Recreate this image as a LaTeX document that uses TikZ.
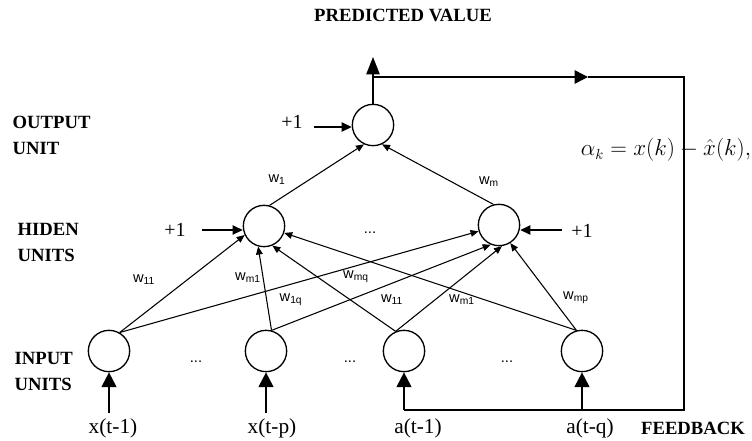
\documentclass[tikz,border=0pt]{standalone}
\usepackage{fontspec}
\setmainfont{Liberation Serif}
\newfontfamily\wfont{Liberation Sans}
\usetikzlibrary{arrows.meta}
\newcommand{\wt}[1]{w\textsubscript{#1}}

\begin{document}
\begin{tikzpicture}[x=0.75pt,y=-0.75pt,>={Triangle[length=6pt,width=5pt]},
 font=\fontsize{15}{17}\selectfont,
 unit/.style={draw,circle,line width=1pt,minimum size=31pt,inner sep=0pt},
 layer/.style={font=\fontsize{14}{19.5}\selectfont\bfseries,align=left,anchor=west},
 wlab/.style={font=\wfont\fontsize{11}{12}\selectfont,inner sep=1pt},
 link/.style={line width=0.8pt},
 feed/.style={line width=1.1pt},
 bigarrow/.style={line width=1.5pt,-{Triangle[length=11pt,width=11pt]}}]
\useasboundingbox (0,0) rectangle (752,440);
% units
\node[unit] (out) at (373,125) {};
\node[unit] (h1) at (264,226) {};
\node[unit] (hm) at (499,225) {};
\node[unit] (x1) at (109,351) {};
\node[unit] (xp) at (266,351) {};
\node[unit] (a1) at (404,351) {};
\node[unit] (aq) at (582,351) {};
% layer names
\node[layer] (lout) at (8,135) {OUTPUT\\UNIT};
\node[layer] (lhid) at (13,242) {HIDEN\\UNITS};
\node[layer] (lin) at (10,371) {INPUT\\UNITS};
\node[font=\fontsize{14}{16}\selectfont\bfseries] (pred) at (403,15) {PREDICTED VALUE};
\node[font=\fontsize{14}{16}\selectfont\bfseries] (fbk) at (693,428) {FEEDBACK};
% inputs
\node[font=\fontsize{16}{18}\selectfont] (tx1) at (113,428) {x(t-1)};
\node[font=\fontsize{16}{18}\selectfont] (txp) at (272,428) {x(t-p)};
\node[font=\fontsize{16}{18}\selectfont] (ta1) at (418,428) {a(t-1)};
\node[font=\fontsize{16}{18}\selectfont] (taq) at (590,428) {a(t-q)};
\node[wlab] (dx1) at (196,362) {...};
\node[wlab] (dx2) at (350,362) {...};
\node[wlab] (dx3) at (507,362) {...};
\node[wlab] (dh) at (370,233) {...};
% bias
\node (b0) at (292,122) {+1};
\node (b1) at (175,230) {+1};
\node (bm) at (582,231) {+1};
\coordinate (b0a) at (314,127);
\coordinate (b1a) at (202,230);
\coordinate (bma) at (562,230);
\path[->,line width=1pt,>={Triangle[length=7.5pt,width=7pt]}]
 (b0a) edge (out.west|-b0a)
 (b1a) edge (h1.west|-b1a)
 (bma) edge (hm.east|-bma);
% weights
\path[->,link]
 (x1.60) edge (h1.205)
 (x1.60) edge (hm.197)
 (xp.75) edge (h1.254)
 (xp.75) edge (hm.247)
 (a1.113) edge (h1.293)
 (a1.113) edge (hm.278)
 (aq.105) edge (h1.341)
 (aq.105) edge (hm.302)
 (h1.75) edge (out.245)
 (hm.105) edge (out.295);
\node[wlab] (w11) at (144,280) {\wt{11}};
\node[wlab] (wm1) at (248,278) {\wt{m1}};
\node[wlab] (wmq) at (356,277) {\wt{mq}};
\node[wlab] (w1q) at (291,300) {\wt{1q}};
\node[wlab] (w11b) at (392,300) {\wt{11}};
\node[wlab] (wm1b) at (462,300) {\wt{m1}};
\node[wlab] (wmp) at (576,298) {\wt{mp}};
\node[wlab] (w1) at (277,180) {\wt{1}};
\node[wlab] (wm) at (489,182) {\wt{m}};
% output and feedback
\coordinate (top) at (373,57);
\coordinate (br) at (373,77);
\coordinate (fbm) at (588,77);
\coordinate (fbr) at (684,77);
\coordinate (fbb) at (684,410);
\coordinate (fbl) at (404,410);
\coordinate (fbq) at (582,410);
\coordinate (s1) at (109,413);
\coordinate (sp) at (266,413);
\draw[feed,-{Triangle[length=13pt,width=10pt]}] (out.north) -- (top);
\draw[feed,-{Triangle[length=10pt,width=10pt]}] (br) -- (fbm);
\draw[feed] (fbm) -- (fbr) -- (fbb) -- (fbl);
\draw[bigarrow] (s1) -- (x1.south);
\draw[bigarrow] (sp) -- (xp.south);
\draw[bigarrow] (fbl) -- (a1.south);
\draw[bigarrow] (fbq) -- (aq.south);
\node[font=\fontsize{16}{18}\selectfont] (err) at (666,150) {$\alpha_k = x(k) - \hat{x}(k),$};
\end{tikzpicture}
\end{document}
